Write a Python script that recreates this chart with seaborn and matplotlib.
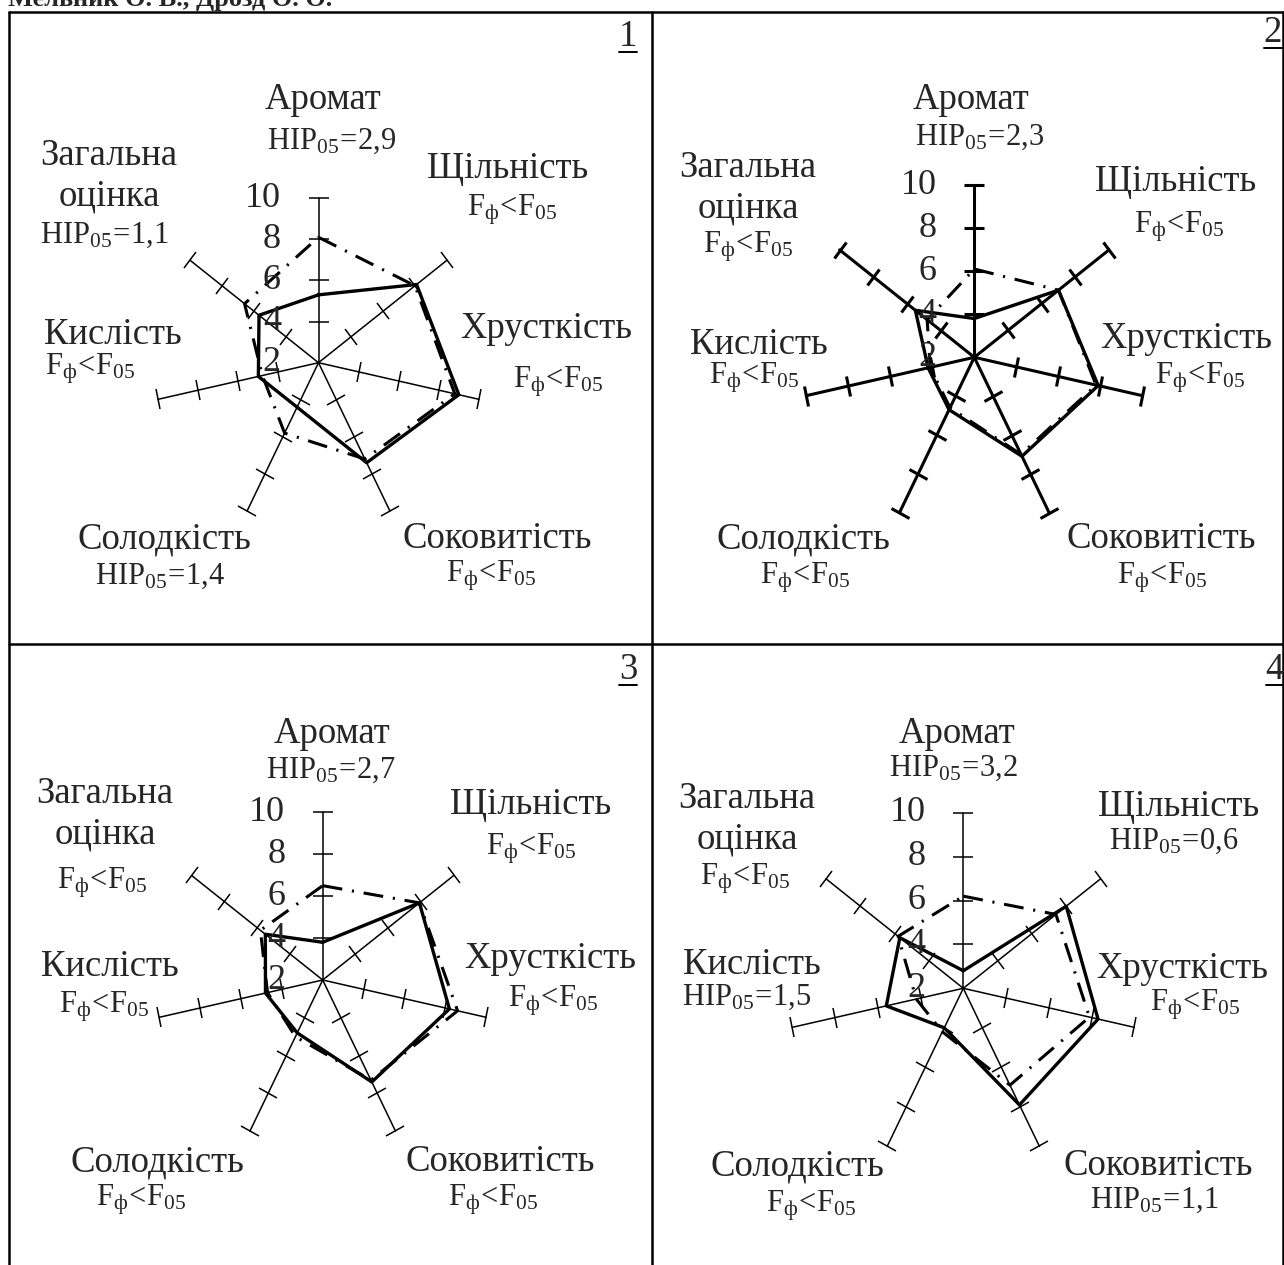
import numpy as np
import pandas as pd
import matplotlib
matplotlib.use("Agg")
import matplotlib.pyplot as plt
import seaborn as sns
from matplotlib.markers import MarkerStyle
from matplotlib.transforms import Affine2D
from matplotlib.lines import Line2D

# | Data |---------------------------------------------------------------------------------------------------------------|
criteria = ["Аромат", "Щільність", "Хрусткість", "Соковитість", "Солодкість", "Кислість", "Загальна\nоцінка"]
scale_ticks = [2, 4, 6, 8, 10]

# solid line / dash-dot line, one pair per panel
solid_1 = [5.3, 8.1, 9.0, 7.4, 4.4, 5.0, 5.7]
dashdot_1 = [8.1, 8.0, 8.8, 7.2, 5.8, 4.8, 6.6]
solid_2 = [3.8, 7.0, 7.9, 7.1, 4.7, 4.2, 5.5]
dashdot_2 = [6.1, 7.0, 7.8, 7.0, 4.6, 4.1, 4.8]
solid_3 = [3.8, 7.9, 8.2, 7.4, 4.8, 4.8, 5.5]
dashdot_3 = [6.5, 7.9, 8.6, 7.3, 5.0, 4.7, 5.8]
solid_4 = [2.8, 8.0, 8.3, 7.9, 4.0, 5.6, 5.7]
dashdot_4 = [6.2, 7.4, 7.9, 6.9, 4.2, 4.2, 5.8]

# НІР05 per criterion, None -> Fф<F05
hir_1 = ["2,9", None, None, None, "1,4", None, "1,1"]
hir_2 = ["2,3", None, None, None, None, None, None]
hir_3 = ["2,7", None, None, None, None, None, None]
hir_4 = ["3,2", "0,6", None, "1,1", None, "1,5", None]

panel_ids = ["1", "2", "3", "4"]

# | Layout (pixels of the 1284x1265 picture) |---------------------------------------------------------------------|
W, H = 1284, 1265
layout = [
    dict(center=(318.5, 362.7), R=164.5, lw=1.1, num=(628, 37),
         names=[(323, 100), (508, 169), (546, 329), (497, 539), (164, 539), (113, 335), (109, 176)],
         stats=[(332, 141), (512, 210), (558, 382), (491, 576), (160, 576), (90, 369), (104, 235)]),
    dict(center=(974.3, 357.3), R=172.3, lw=2.2, num=(1273, 33),
         names=[(971, 100), (1176, 182), (1186, 339), (1161, 539), (803, 539), (759, 345), (748, 188)],
         stats=[(980, 137), (1179, 227), (1200, 378), (1162, 578), (805, 578), (754, 378), (748, 247)]),
    dict(center=(322.7, 980.0), R=167.7, lw=1.1, num=(628, 670),
         names=[(332, 734), (531, 805), (550, 959), (500, 1162), (157, 1162), (110, 967), (105, 814)],
         stats=[(331, 770), (531, 849), (553, 1001), (493, 1200), (141, 1200), (104, 1007), (102, 883)]),
    dict(center=(963.3, 988.3), R=175.5, lw=1.1, num=(1275, 670),
         names=[(957, 734), (1179, 807), (1182, 969), (1158, 1166), (797, 1166), (752, 965), (747, 819)],
         stats=[(953, 768), (1174, 841), (1195, 1005), (1154, 1200), (811, 1206), (747, 997), (745, 879)]),
]

# | Style |-------------------------------------------------------------------------------------------------------------|
sns.set_style("white")
plt.rcParams["font.family"] = ["Liberation Serif", "DejaVu Serif"]
plt.rcParams["mathtext.fontset"] = "custom"
plt.rcParams["mathtext.rm"] = "Liberation Serif"
plt.rcParams["mathtext.it"] = "Liberation Serif:italic"
plt.rcParams["mathtext.bf"] = "Liberation Serif:bold"

NAME_FS = 26.5
STAT_FS = 22
RAD_FS = 26
DASHDOT = (0, (6.5, 3.2, 0.7, 3.2))


def fx(x, y):
    return x / W, 1 - y / H


def stat_text(hir):
    if hir is None:
        return r"$\mathregular{F_{ф}\!<\!F_{05}}$"
    return r"$\mathregular{НІР_{05}\!=\!%s}$" % hir.replace(",", "{,}")


def draw_panel(fig, lay, solid, dashdot, hir, pid):
    cx, cy = lay["center"]
    R = lay["R"]
    ax = fig.add_axes([(cx - R) / W, 1 - (cy + R) / H, 2 * R / W, 2 * R / H], projection="polar")
    ax.set_theta_offset(np.pi / 2)
    ax.set_theta_direction(-1)
    ax.set_ylim(2, 10)
    ax.axis("off")

    n = len(criteria)
    theta = np.arange(n) * 2 * np.pi / n
    # spokes with perpendicular ticks
    for i, th in enumerate(theta):
        ax.plot([th, th], [scale_ticks[0], scale_ticks[-1]], color="black", lw=lay["lw"], clip_on=False)
        disp = 90 - np.degrees(th)
        mk = MarkerStyle("_", transform=Affine2D().rotate_deg(disp + 90))
        ax.plot([th] * (len(scale_ticks) - 1), scale_ticks[1:], ls="none", marker=mk, ms=15,
                mew=lay["lw"], color="black", clip_on=False)

    th_closed = np.append(theta, theta[0])
    df = pd.DataFrame({"theta": th_closed,
                       "solid": solid + solid[:1],
                       "dashdot": dashdot + dashdot[:1]})
    sns.lineplot(data=df, x="theta", y="dashdot", sort=False, estimator=None, ax=ax,
                 color="black", lw=2.2, linestyle=DASHDOT, clip_on=False)
    sns.lineplot(data=df, x="theta", y="solid", sort=False, estimator=None, ax=ax,
                 color="black", lw=2.4, clip_on=False)
    ax.axis("off")

    for v in scale_ticks:
        ax.annotate(str(v), xy=(0, v), xytext=(-27, 0), textcoords="offset points",
                    ha="right", va="center", fontsize=RAD_FS, annotation_clip=False)

    for name, (x, y) in zip(criteria, lay["names"]):
        fig.text(*fx(x, y), name, ha="center", va="center", fontsize=NAME_FS, linespacing=1.22)
    for h, (x, y) in zip(hir, lay["stats"]):
        fig.text(*fx(x, y), stat_text(h), ha="center", va="center", fontsize=STAT_FS)

    nx, ny = lay["num"]
    fig.text(*fx(nx, ny), pid, ha="center", va="center", fontsize=NAME_FS)
    fig.add_artist(Line2D([(nx - 9) / W, (nx + 9) / W], [1 - (ny + 15) / H] * 2,
                          transform=fig.transFigure, color="black", lw=1.4))


fig = plt.figure(figsize=(W / 100, H / 100), dpi=100)

# table frame
frame = [((9, 11.5), (1284, 11.5)), ((9, 11.5), (9, 1265)), ((652, 11.5), (652, 1265)),
         ((9, 644), (1284, 644)), ((1282.5, 11.5), (1282.5, 1265))]
for (x0, y0), (x1, y1) in frame:
    fig.add_artist(Line2D([x0 / W, x1 / W], [1 - y0 / H, 1 - y1 / H], transform=fig.transFigure,
                          color="black", lw=1.8))

# running header of the page, cut by the top edge as in the source
fig.text(*fx(8, 6), "Мельник О. В., Дрозд О. О.", ha="left", va="baseline",
         fontsize=19, fontweight="bold")

panels = [(solid_1, dashdot_1, hir_1), (solid_2, dashdot_2, hir_2),
          (solid_3, dashdot_3, hir_3), (solid_4, dashdot_4, hir_4)]
for lay, (s, d, h), pid in zip(layout, panels, panel_ids):
    draw_panel(fig, lay, s, d, h, pid)

fig.savefig("out.png", dpi=100)
